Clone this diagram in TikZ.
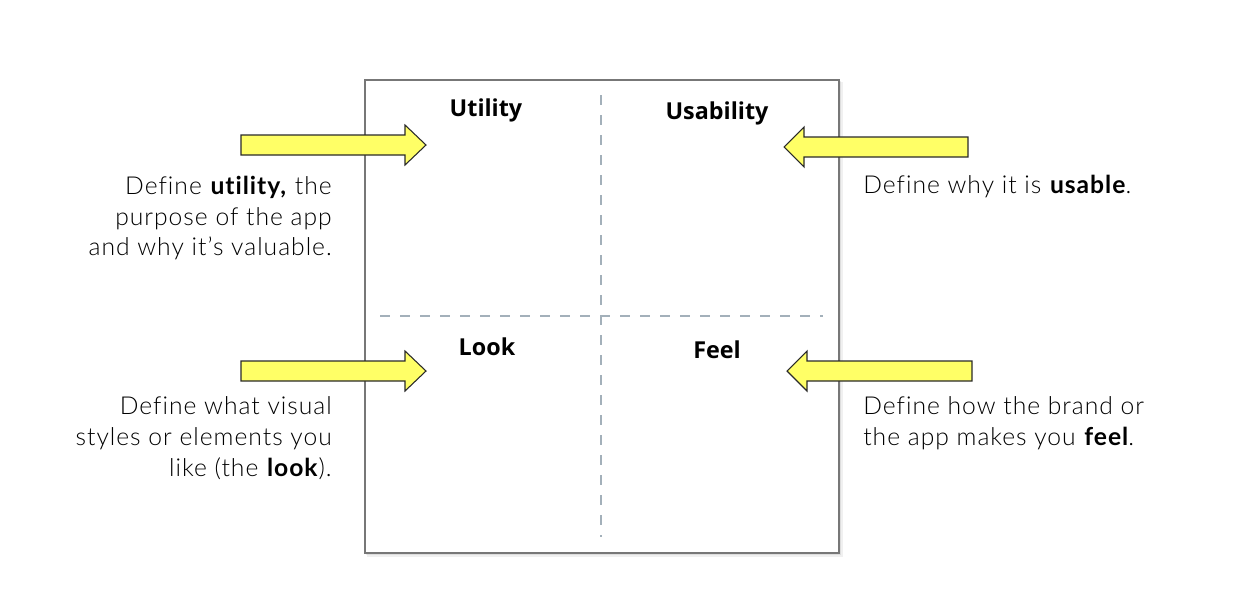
\documentclass[tikz,border=0pt]{standalone}
\usepackage{fontspec}
\setmainfont{Lato}[UprightFont=* Light, BoldFont=* Bold, LetterSpace=4, Ligatures={NoCommon}]
\newfontfamily\titlefont{Open Sans}[UprightFont=* Bold]
\definecolor{arrowyellow}{HTML}{FFFF66}
\definecolor{arrowline}{HTML}{2A2A2A}
\definecolor{boxline}{HTML}{777777}
\definecolor{dashcol}{HTML}{A3B0BA}
\begin{document}
\begin{tikzpicture}[x=0.75pt,y=-0.75pt,
  quadtitle/.style={font=\titlefont\fontsize{17.5}{20}\selectfont, inner sep=0pt},
  desc/.style={font=\fontsize{18.5}{23}\selectfont, inner sep=0pt},
  fatarrow/.style={fill=arrowyellow, draw=arrowline, line width=0.8pt, line join=miter},
  divider/.style={draw=dashcol, line width=2.2pt, dash pattern=on 7.5pt off 7.5pt}]
\useasboundingbox (0,0) rectangle (1256,590);
% shadow
\fill[black, opacity=0.06] (367,82) rectangle (843,557);
\fill[black, opacity=0.08] (366,81) rectangle (841,555);
% frame
\node[draw=boxline, line width=1.5pt, fill=white, minimum width=474*0.75pt, minimum height=473*0.75pt, inner sep=0pt, anchor=north west] (frame) at (364,79) {};
% dividers
\coordinate (vtop) at (601,95);
\coordinate (vbot) at (601,537);
\coordinate (hleft) at (380,316);
\coordinate (hright) at (823,316);
\draw[divider] (vtop) -- (vbot);
\draw[divider] (hleft) -- (hright);
% titles
\node[quadtitle] (utility) at (486,110) {Utility};
\node[quadtitle] (usability) at (717,113) {Usability};
\node[quadtitle] (look) at (487,347) {Look};
\node[quadtitle] (feel) at (717,350) {Feel};
% arrows
\draw[fatarrow] (241,135) -- (405,135) -- (405,125) -- (426,145) -- (405,165) -- (405,155) -- (241,155) -- cycle;
\draw[fatarrow] (968,137) -- (804,137) -- (804,127) -- (784,147) -- (804,167) -- (804,157) -- (968,157) -- cycle;
\draw[fatarrow] (241,361) -- (405,361) -- (405,351) -- (426,371) -- (405,391) -- (405,381) -- (241,381) -- cycle;
\draw[fatarrow] (972,361) -- (807,361) -- (807,351) -- (787,371) -- (807,391) -- (807,381) -- (972,381) -- cycle;
% descriptions
\node[desc, align=right, anchor=east] (dutil) at (332,218) {Define \textbf{utility,} the\\purpose of the app\\and why it{\char"0027}s valuable.};
\node[desc, align=left, anchor=west] (dusab) at (863,187) {Define why it is \textbf{usable}.};
\node[desc, align=right, anchor=east] (dlook) at (332,438) {Define what visual\\styles or elements you\\like (the \textbf{look}).};
\node[desc, align=left, anchor=west] (dfeel) at (863,423) {Define how the brand or\\the app makes you \textbf{feel}.};
\end{tikzpicture}
\end{document}
